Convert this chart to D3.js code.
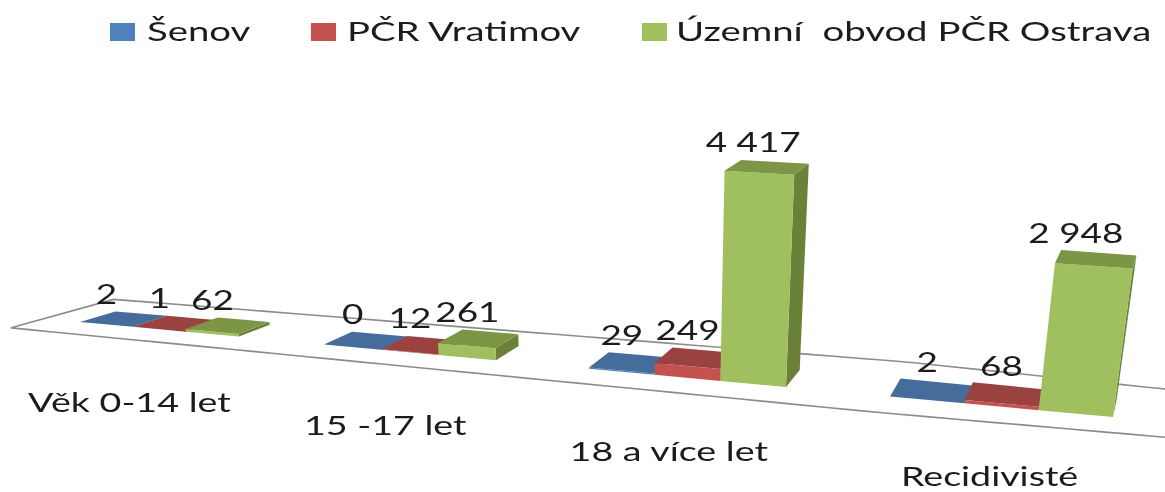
<!DOCTYPE html>
<html><head><meta charset="utf-8">
<style>html,body{margin:0;padding:0;background:#fff;overflow:hidden}svg{display:block}
text{font-family:Lato,"Noto Sans",sans-serif;fill:#1a1a1a;white-space:pre}</style>
<script src="https://cdn.jsdelivr.net/npm/d3@7/dist/d3.min.js"></script>
</head><body><svg id="c" width="1165" height="492"></svg>
<script>
const categories = ["Věk 0-14 let", "15 -17 let", "18 a více let", "Recidivisté"];
const seriesNames = ["Šenov", "PČR Vratimov", "Územní  obvod PČR Ostrava"];
const senov = [2, 0, 29, 2];
const vratimov = [1, 12, 249, 68];
const ostrava = [62, 261, 4417, 2948];
const valueLabels = [["2","1","62"],["0","12","261"],["29","249","4 417"],["2","68","2 948"]];
const frontColors = ["#4F81BD", "#C4524F", "#A0BF5F"];
const topColors = ["#456C9B", "#9A4340", "#7B9645"];
const sideColors = ["#3A5C85", "#833835", "#6C8139"];
const series = [senov, vratimov, ostrava];

const svg = d3.select("#c");
const H = 492;
const defs = svg.append("defs");
defs.append("filter").attr("id","soft").attr("x","-5%").attr("y","-5%").attr("width","110%").attr("height","110%")
  .append("feGaussianBlur").attr("stdDeviation",0.7);
defs.append("filter").attr("id","softText").attr("x","-5%").attr("y","-20%").attr("width","110%").attr("height","140%")
  .append("feGaussianBlur").attr("stdDeviation",0.5);
const root = svg.append("g").attr("filter","url(#soft)");

// world u (category axis) -> screen x on the line of the bar fronts
const xFront = d3.scaleLinear()
  .domain([0,.18,.82,1.18,1.82,2.18,2.82,3.18,3.82,4.4])
  .range([44,80,239,324,496,589,786,890,1113,1250]);
const yFront = d3.scaleLinear().domain([80,1113]).range([322,417]);
const depthX = d3.scaleLinear().domain([0,1165]).range([38,2]);
const depthY = d3.scaleLinear().domain([80,890,1165]).range([10.5,18,17]);
const heightPx = d3.scaleLinear().domain([0,4417]).range([0,210]);
const seriesBand = d3.scaleBand().domain(d3.range(3)).range([.18,.82]);

const VANISH_X = 650, VANISH_H = 3500;
function project(u, d, value){
  const X = xFront(u);
  const gain = 1 + (X - 716) * 0.00015;
  const h = heightPx(value) * gain;
  const x0 = X + depthX(X) * d;
  const dy = depthY(X) * d * (1 - h / 600);
  return [x0 + (x0 - VANISH_X) * h / VANISH_H, yFront(X) - dy - h];
}
const line = d3.line();
const poly = pts => line(pts) + "Z";

// floor
const us = d3.range(0, 4.41, 0.1);
const frontEdge = us.map(u => project(u, -0.9, 0));
const backEdge = us.map(u => project(u, 1.9, 0));
root.append("path").attr("d", poly(frontEdge.concat(backEdge.slice().reverse())))
  .attr("fill","#fff").attr("stroke","#8c8c8c").attr("stroke-width",1.6);

// bars
categories.forEach((cat, i) => {
  const g = root.append("g").attr("class","group");
  series.forEach((vals, s) => {
    const v = vals[i];
    const u0 = i + seriesBand(s), u1 = u0 + seriesBand.bandwidth();
    g.append("path").attr("d", poly([project(u1,0,0),project(u1,1,0),project(u1,1,v),project(u1,0,v)])).attr("fill", sideColors[s]);
    g.append("path").attr("d", poly([project(u0,0,0),project(u1,0,0),project(u1,0,v),project(u0,0,v)])).attr("fill", frontColors[s]);
    g.append("path").attr("d", poly([project(u0,0,v),project(u1,0,v),project(u1,1,v),project(u0,1,v)])).attr("fill", topColors[s]);
  });
});

const STRETCH = 1.42;
function label(txt, x, y, size, anchor){
  return svg.append("text").text(txt)
    .attr("text-anchor", anchor || "middle")
    .attr("font-size", size)
    .attr("filter","url(#softText)")
    .attr("transform", `translate(${x},${y}) scale(${STRETCH},1)`);
}
// value labels
categories.forEach((cat, i) => {
  series.forEach((vals, s) => {
    const v = vals[i];
    const u = i + seriesBand(s) + seriesBand.bandwidth()/2;
    label(valueLabels[i][s], xFront(u), project(u, 1, v)[1] - 10, 26);
  });
});
// category labels
categories.forEach((cat, i) => {
  const X = xFront(i + .5);
  label(cat, X - depthX(X)*0.7 - 7, Math.min(yFront(X) + 83, H - 6), 26.5);
});
// legend
const legendX = [110, 311, 642];
const legendTextX = [147, 347, 676];
seriesNames.forEach((n, s) => {
  svg.append("rect").attr("x", legendX[s]).attr("y", 23).attr("width", 25).attr("height", 18)
    .attr("fill", frontColors[s]).attr("filter","url(#soft)");
  label(n, legendTextX[s], 41, 27, "start");
});
</script></body></html>
